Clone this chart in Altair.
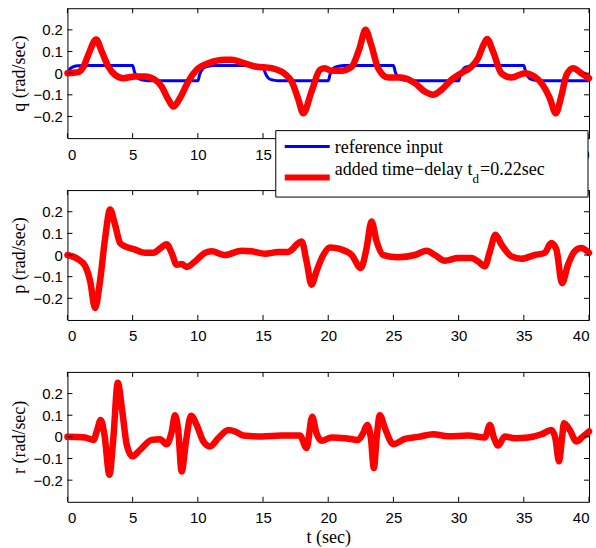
import altair as alt
import pandas as pd

# ---------------- data ----------------
# reference input (blue) in q panel
t_ref = [0, 0.15, 0.3, 0.5, 0.8, 1.2,
         5.0, 5.15, 5.3, 5.5, 5.8, 6.2,
         10.0, 10.15, 10.3, 10.5, 10.8, 11.2,
         15.0, 15.15, 15.3, 15.5, 15.8, 16.2,
         20.0, 20.15, 20.3, 20.5, 20.8, 21.2,
         25.0, 25.15, 25.3, 25.5, 25.8, 26.2,
         30.0, 30.15, 30.3, 30.5, 30.8, 31.2,
         35.0, 35.15, 35.3, 35.5, 35.8, 36.2,
         40.0]
q_ref = [0, 0.016, 0.025, 0.031, 0.034, 0.035,
         0.035, 0.004, -0.014, -0.027, -0.032, -0.035,
         -0.035, -0.004, 0.014, 0.027, 0.032, 0.035,
         0.035, 0.004, -0.014, -0.027, -0.032, -0.035,
         -0.035, -0.004, 0.014, 0.027, 0.032, 0.035,
         0.035, 0.004, -0.014, -0.027, -0.032, -0.035,
         -0.035, -0.004, 0.014, 0.027, 0.032, 0.035,
         0.035, 0.004, -0.014, -0.027, -0.032, -0.035,
         -0.035]

# q with added time delay (red)
t_q = [0, 0.84, 1.23, 1.6, 2.2, 2.63, 3.14, 3.65, 4.3, 5.2, 5.95, 6.7, 7.2, 7.75, 8.12,
       8.63, 9.27, 10.04, 10.8, 12.08, 12.6, 13.36, 14.4, 15.66, 16.7, 17.2, 17.7, 18.08,
       18.72, 19.36, 19.74, 20.25, 21.0, 21.8, 22.4, 22.86, 23.3, 23.83, 24.6, 25.6, 26.64,
       27.4, 28.04, 28.68, 29.45, 30.2, 30.98, 31.5, 31.9, 32.18, 32.64, 33.28, 34.05, 35.06,
       35.8, 36.35, 36.99, 37.45, 37.9, 38.27, 38.8, 39.4, 40.0]
q_val = [0, 0.005, 0.03, 0.085, 0.155, 0.1, 0.03, -0.008, -0.023, -0.015, -0.015, -0.03, -0.06,
         -0.123, -0.154, -0.115, -0.038, 0.023, 0.046, 0.062, 0.062, 0.05, 0.031, 0.023, -0.005,
         -0.038, -0.12, -0.185, -0.085, 0.015, 0.023, 0.011, 0.011, 0.03, 0.115, 0.2, 0.13, 0.023,
         -0.02, -0.02, -0.046, -0.085, -0.1, -0.077, -0.03, 0, 0.03, 0.07, 0.13, 0.158, 0.1, 0,
         -0.02, 0, -0.015, -0.046, -0.115, -0.185, -0.1, -0.008, 0.023, 0, -0.023]

# p (red)
t_p = [0, 0.84, 1.35, 1.74, 2.12, 2.5, 2.89, 3.27, 3.65, 4.04, 4.42, 5.19, 5.95, 6.6, 7.1, 7.6,
       7.99, 8.38, 8.76, 9.15, 9.78, 10.55, 11.06, 12.08, 13.36, 14.1, 15.15, 16.17, 16.9, 17.3,
       17.6, 17.96, 18.34, 18.72, 19.1, 19.62, 20.13, 20.9, 21.8, 22.5, 22.94, 23.32, 23.71,
       24.22, 25.37, 26.64, 27.54, 28.18, 28.94, 29.97, 30.99, 31.5, 32.01, 32.4, 32.83, 33.29,
       34.05, 34.82, 35.84, 36.6, 37.1, 37.5, 37.93, 38.39, 38.9, 39.41, 40.0]
p_val = [0, -0.02, -0.05, -0.12, -0.245, -0.12, 0.078, 0.21, 0.14, 0.055, 0.04, 0.025, 0.01, 0.01,
         0.03, 0.05, 0.01, -0.045, -0.042, -0.055, -0.03, 0.01, 0.017, 0.0, 0.02, 0.017, 0.006,
         0.014, 0.014, 0.03, 0.05, 0.063, -0.03, -0.137, -0.075, 0.0, 0.035, 0.028, 0.0, -0.06,
         0.032, 0.155, 0.063, 0.0, -0.01, 0.0, 0.02, 0.0, -0.026, -0.014, -0.014, -0.03, -0.052,
         0.017, 0.094, 0.048, -0.006, -0.017, 0.0, 0.01, 0.055, 0.025, -0.13, -0.045, 0.017,
         0.032, 0.01]

# r (red)
t_r = [0, 1.35, 2.0, 2.25, 2.55, 2.84, 3.22, 3.52, 3.86, 4.21, 4.55, 4.98, 5.57, 6.46, 7.1, 7.61,
       8.0, 8.25, 8.5, 8.76, 9.09, 9.48, 9.91, 10.42, 10.93, 11.57, 12.34, 12.85, 13.49, 14.9,
       16.42, 17.83, 18.34, 18.77, 19.1, 19.49, 20.25, 21.28, 22.3, 22.68, 22.99, 23.27, 23.5,
       23.71, 23.96, 24.35, 24.99, 25.88, 26.9, 28.05, 29.2, 30.73, 32.01, 32.4, 32.72, 33.03,
       33.54, 34.31, 35.33, 36.35, 37.12, 37.42, 37.7, 37.93, 38.08, 38.52, 39.03, 39.54, 40.0]
r_val = [0, -0.003, -0.014, 0.025, 0.078, 0.009, -0.175, -0.006, 0.25, 0.116, -0.037, -0.09,
         -0.06, -0.014, -0.011, -0.034, 0.025, 0.1, 0.025, -0.16, -0.021, 0.098, 0.055, -0.021,
         -0.044, -0.006, 0.032, 0.025, 0.006, 0.0015, 0.006, 0.006, -0.052, 0.093, 0.017, -0.018,
         -0.003, -0.006, -0.014, 0.017, 0.055, -0.006, -0.144, -0.006, 0.1, 0.04, -0.034, -0.009,
         0.0, 0.012, 0.003, 0.006, -0.003, 0.055, -0.006, -0.04, 0.0015, -0.006, -0.003, 0.012,
         0.032, -0.006, -0.113, -0.006, 0.063, 0.032, -0.021, 0.0015, 0.025]

x_ticks = [0, 5, 10, 15, 20, 25, 30, 35, 40]
y_ticks = [-0.2, -0.1, 0, 0.1, 0.2]

legend_labels = ["reference input", "added time\u2212delay t", "d", "=0.22sec"]

# ---------------- chart ----------------
W, H = 522, 130
RED = "#ff0000"
BLUE = "#0000ff"
SERIF = "Liberation Serif"
SANS = "Liberation Sans"

xscale = alt.Scale(domain=[0, 40], nice=False, zero=False)
yscale = alt.Scale(domain=[-0.3, 0.3], nice=False, zero=False)

# in the top panel the labels 20..35 sit under the legend box
HIDDEN_TOP = "(datum.value >= 20 && datum.value <= 35) ? '' : datum.label"


def x_enc(title, field="t", label_expr=None):
    kw = dict(values=x_ticks, format="d", title=title, labelPadding=9, titlePadding=3)
    if label_expr:
        kw["labelExpr"] = label_expr
    return alt.X(f"{field}:Q", scale=xscale, axis=alt.Axis(**kw))


def y_enc(title, field="v"):
    return alt.Y(f"{field}:Q", scale=yscale,
                 axis=alt.Axis(values=y_ticks, format="~g", title=title, labelPadding=5,
                               titlePadding=4))


def tick_layers(xtitle, ytitle, label_expr=None):
    xt = pd.DataFrame({"t": x_ticks})
    yt = pd.DataFrame({"v": y_ticks})
    bx = alt.Chart(xt).mark_rule(color="black", strokeWidth=1).encode(
        x=x_enc(xtitle, label_expr=label_expr), y=alt.value(H - 5), y2=alt.value(H))
    tx = alt.Chart(xt).mark_rule(color="black", strokeWidth=1).encode(
        x=x_enc(xtitle, label_expr=label_expr), y=alt.value(0), y2=alt.value(5))
    ly = alt.Chart(yt).mark_rule(color="black", strokeWidth=1).encode(
        y=y_enc(ytitle), x=alt.value(0), x2=alt.value(5))
    ry = alt.Chart(yt).mark_rule(color="black", strokeWidth=1).encode(
        y=y_enc(ytitle), x=alt.value(W - 5), x2=alt.value(W))
    return [bx, tx, ly, ry]


def red_line(ts, vs, ytitle, xtitle, label_expr=None):
    df = pd.DataFrame({"t": ts, "v": vs})
    return alt.Chart(df).mark_line(color=RED, strokeWidth=6.5, interpolate="monotone",
                                   strokeCap="round", strokeJoin="round").encode(
        x=x_enc(xtitle, label_expr=label_expr), y=y_enc(ytitle))


# panel q
blue_df = pd.DataFrame({"t": t_ref, "v": q_ref})
blue = alt.Chart(blue_df).mark_line(color=BLUE, strokeWidth=3, interpolate="monotone").encode(
    x=x_enc(None, label_expr=HIDDEN_TOP), y=y_enc("q (rad/sec)"))
p1 = alt.layer(blue, red_line(t_q, q_val, "q (rad/sec)", None, HIDDEN_TOP),
               *tick_layers(None, "q (rad/sec)", HIDDEN_TOP)).properties(width=W, height=H)

# legend (drawn in panel p so it covers panel q's labels and p's top border)
one = pd.DataFrame({"a": [0]})
leg_box = alt.Chart(one).mark_rect(fill="white", stroke="black", strokeWidth=1).encode(
    x=alt.value(208.5), x2=alt.value(521), y=alt.value(-59.5), y2=alt.value(7))
leg_blue = alt.Chart(one).mark_rule(color=BLUE, strokeWidth=3).encode(
    x=alt.value(217.5), x2=alt.value(262.5), y=alt.value(-43.5))
leg_red = alt.Chart(one).mark_rule(color=RED, strokeWidth=6).encode(
    x=alt.value(217.5), x2=alt.value(262.5), y=alt.value(-12.5))
txt_common = dict(font=SERIF, fontSize=18, color="black", align="left", baseline="alphabetic")
leg_t1 = alt.Chart(one).mark_text(text=legend_labels[0], **txt_common).encode(
    x=alt.value(267.5), y=alt.value(-37))
leg_t2 = alt.Chart(one).mark_text(text=legend_labels[1], **txt_common).encode(
    x=alt.value(267.5), y=alt.value(-15.5))
leg_t3 = alt.Chart(one).mark_text(text=legend_labels[2], font=SERIF, fontSize=13, color="black",
                                  align="left", baseline="alphabetic").encode(
    x=alt.value(405.5), y=alt.value(-7.5))
leg_t4 = alt.Chart(one).mark_text(text=legend_labels[3], **txt_common).encode(
    x=alt.value(413), y=alt.value(-15.5))

p2 = alt.layer(red_line(t_p, p_val, "p (rad/sec)", None), *tick_layers(None, "p (rad/sec)"),
               leg_box, leg_blue, leg_red, leg_t1, leg_t2, leg_t3, leg_t4).properties(
    width=W, height=H)

p3 = alt.layer(red_line(t_r, r_val, "r (rad/sec)", "t (sec)"),
               *tick_layers("t (sec)", "r (rad/sec)")).properties(width=W, height=H)

chart = alt.vconcat(p1, p2, p3, spacing=52, bounds="flush").properties(
    padding={"left": 9.5, "top": 7, "right": 0, "bottom": 0},
    background="white",
).configure_view(
    stroke="black", strokeWidth=1
).configure_axis(
    labelFont=SANS, labelFontSize=15, labelColor="black",
    titleFont=SERIF, titleFontSize=18, titleFontWeight="normal", titleColor="black",
    ticks=False, tickSize=0, domain=False, grid=False,
)

chart.save("out.html", embed_options={"renderer": "svg", "actions": False})
